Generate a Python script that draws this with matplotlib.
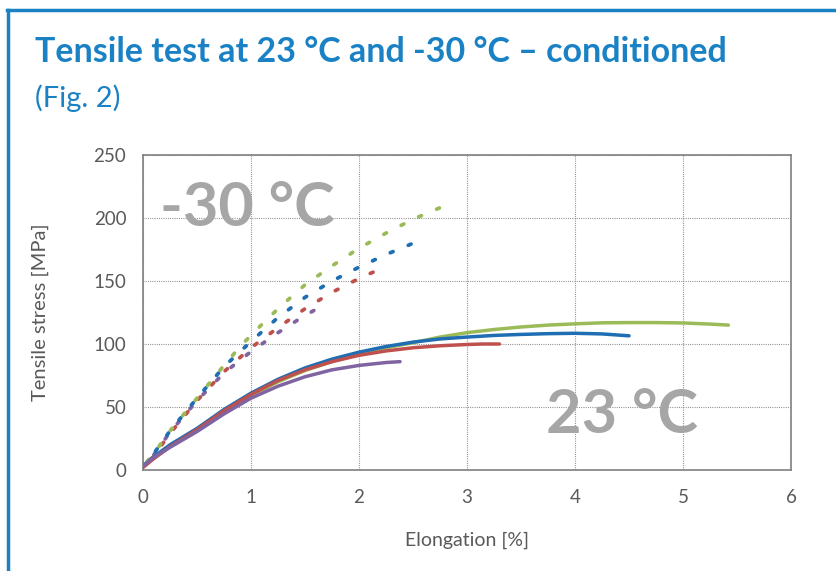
import matplotlib
matplotlib.use("Agg")
import matplotlib.pyplot as plt
from matplotlib.lines import Line2D

plt.rcParams['font.family'] = ['Lato', 'DejaVu Sans']

# 23 °C curves (solid)
e23_green = [0, 0.1, 0.25, 0.5, 0.75, 1, 1.25, 1.5, 1.75, 2, 2.25, 2.5, 2.75, 3, 3.25, 3.5,
             3.75, 4, 4.25, 4.5, 4.75, 5, 5.25, 5.42]
s23_green = [3, 10, 19, 32, 46, 59, 70, 79, 86, 92, 97, 101, 105.5, 109, 111.5, 113.5,
             115, 116, 116.8, 117, 117, 116.7, 115.8, 115]
e23_blue = [0, 0.1, 0.25, 0.5, 0.75, 1, 1.25, 1.5, 1.75, 2, 2.25, 2.5, 2.75, 3, 3.25, 3.5,
            3.75, 4, 4.25, 4.5]
s23_blue = [3, 10.5, 20, 33, 48, 61, 72, 81, 88, 93.5, 98, 101.5, 104, 105.5, 106.8, 107.6,
            108.2, 108.5, 108, 106.5]
e23_red = [0, 0.1, 0.25, 0.5, 0.75, 1, 1.25, 1.5, 1.75, 2, 2.25, 2.5, 2.75, 3, 3.15, 3.3]
s23_red = [2, 9, 18.5, 32, 47, 60, 71, 79.5, 86, 91, 94.5, 97, 98.6, 99.6, 100, 100]
e23_purple = [0, 0.1, 0.25, 0.5, 0.75, 1, 1.25, 1.5, 1.75, 2, 2.25, 2.38]
s23_purple = [3, 10, 18, 30.5, 44.5, 57, 66.5, 74, 79.5, 83, 85.3, 86]

# -30 °C curves (dotted)
em30_green = [0, 0.1, 0.25, 0.5, 0.75, 0.9, 1, 1.25, 1.5, 1.75, 2, 2.25, 2.5, 2.8]
sm30_green = [3, 13, 31, 57, 83, 98, 107, 128, 147, 162, 176, 188, 199, 210]
em30_blue = [0, 0.1, 0.25, 0.5, 0.75, 1, 1.25, 1.5, 1.75, 2, 2.25, 2.53]
sm30_blue = [3, 13, 31, 57, 82, 102, 121, 137, 150, 161, 171, 181]
em30_red = [0, 0.1, 0.25, 0.5, 0.75, 1, 1.25, 1.5, 1.75, 2, 2.26]
sm30_red = [2, 11, 29, 55, 78, 97, 113, 128, 141, 152, 162]
em30_purple = [0, 0.1, 0.25, 0.5, 0.75, 1, 1.25, 1.45, 1.61]
sm30_purple = [3, 12, 30, 55, 77, 94, 109, 120, 128]

x_ticks = [0, 1, 2, 3, 4, 5, 6]
y_ticks = [0, 50, 100, 150, 200, 250]

C_GREEN = '#9bbb59'
C_BLUE = '#1f6db3'
C_RED = '#c0504d'
C_PURPLE = '#8064a2'
TXT = '#595959'
FRAME = '#1a82c4'

fig = plt.figure(figsize=(8.36, 5.71), dpi=100)
W, H = 836, 571

# blue frame (top and left)
fig.add_artist(Line2D([7 / W, 1], [1 - 10 / H, 1 - 10 / H], color=FRAME, lw=2.5, transform=fig.transFigure))
fig.add_artist(Line2D([8 / W, 8 / W], [0, 1 - 10 / H], color=FRAME, lw=2.5, transform=fig.transFigure))

fig.text(35 / W, 1 - 62 / H, 'Tensile test at 23 °C and -30 °C – conditioned',
         fontsize=24.5, fontweight='bold', color=FRAME, ha='left', va='baseline')
fig.text(35 / W, 1 - 107 / H, '(Fig. 2)', fontsize=21, color=FRAME, ha='left', va='baseline')

ax = fig.add_axes([143 / W, 1 - 470 / H, (791 - 143) / W, (470 - 155) / H])

for e, s, c, off in [(em30_purple, sm30_purple, C_PURPLE, 1.0), (em30_red, sm30_red, C_RED, 2.5),
                     (em30_blue, sm30_blue, C_BLUE, 0.0), (em30_green, sm30_green, C_GREEN, 3.6)]:
    ax.plot(e, s, color=c, lw=2.7, linestyle=(off, (0.8, 4.4)), dash_capstyle='round', zorder=3)

for e, s, c in [(e23_green, s23_green, C_GREEN), (e23_blue, s23_blue, C_BLUE),
                (e23_red, s23_red, C_RED), (e23_purple, s23_purple, C_PURPLE)]:
    ax.plot(e, s, color=c, lw=2.5, solid_capstyle='round', solid_joinstyle='round', zorder=4)

ax.set_xlim(0, 6)
ax.set_ylim(0, 250)
ax.set_xticks(x_ticks)
ax.set_yticks(y_ticks)
ax.grid(True, color='#7f7f7f', linestyle=(0, (0.8, 1.2)), lw=0.8)
ax.set_axisbelow(True)
for sp in ax.spines.values():
    sp.set_color('#808080')
    sp.set_linewidth(1.2)
ax.tick_params(length=0, labelsize=13.5, colors=TXT, pad=12)
ax.tick_params(axis='x', pad=14)

ax.set_xlabel('Elongation [%]', fontsize=14, color=TXT, labelpad=18)
ax.set_ylabel('Tensile stress [MPa]', fontsize=14.5, color=TXT, labelpad=32)

ax.text(0.16, 208, '-30 °C', fontsize=44, fontweight='bold', color='#a6a6a6',
        ha='left', va='center', zorder=2)
ax.text(4.43, 44, '23 °C', fontsize=44, fontweight='bold', color='#a6a6a6',
        ha='center', va='center', zorder=5)

fig.savefig('out.png', dpi=100, facecolor='white')
